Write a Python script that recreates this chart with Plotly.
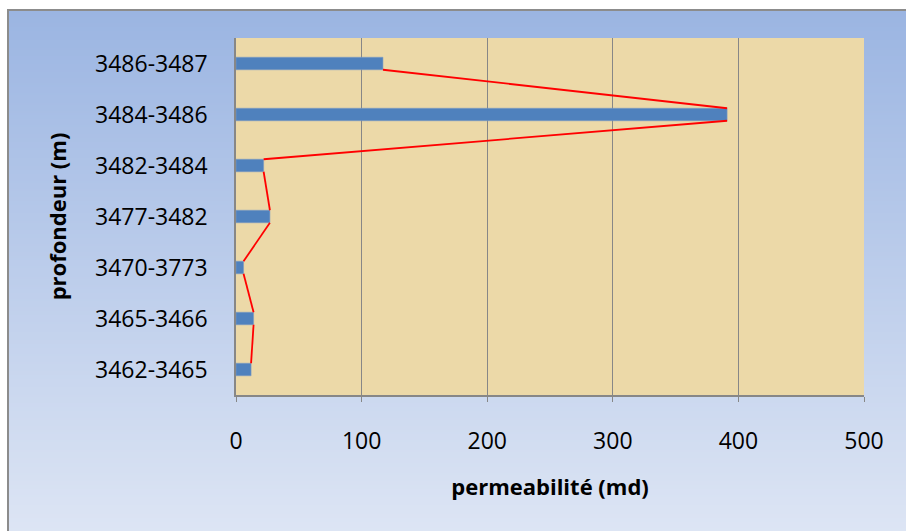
import base64, struct, zlib
import plotly.graph_objects as go

# ---- data ----
categories = ["3462-3465", "3465-3466", "3470-3773", "3477-3482",
              "3482-3484", "3484-3486", "3486-3487"]
permeability = [12, 14, 6, 27, 22, 391, 117]
x_ticks = [0, 100, 200, 300, 400, 500]

# ---- geometry ----
W, H = 906, 531
ML, MR, MT, MB = 236, 42, 38, 136
PW, PH = W - ML - MR, H - MT - MB
BAR_W = 0.245  # bar thickness in category units


def px_to_paper_x(px):
    return (px - ML) / PW


def py_to_paper_y(py):
    return (H - MB - py) / PH


def gradient_png(top, bottom, h=256):
    rows = []
    for i in range(h):
        t = i / (h - 1)
        c = [round(top[k] + (bottom[k] - top[k]) * t) for k in range(3)]
        rows.append(b"\x00" + bytes(c))
    raw = b"".join(rows)

    def chunk(tag, data):
        return (struct.pack(">I", len(data)) + tag + data +
                struct.pack(">I", zlib.crc32(tag + data) & 0xffffffff))

    ihdr = struct.pack(">IIBBBBB", 1, h, 8, 2, 0, 0, 0)
    png = (b"\x89PNG\r\n\x1a\n" + chunk(b"IHDR", ihdr) +
           chunk(b"IDAT", zlib.compress(raw)) + chunk(b"IEND", b""))
    return "data:image/png;base64," + base64.b64encode(png).decode()


FONT = "Open Sans"
GRID = "#878787"
TXT = "#000000"

pos = list(range(len(categories)))
half = BAR_W / 2

# Excel-style "series lines": from the lower corner of each bar end to the
# upper corner of the next bar end below it.
sl_x, sl_y = [], []
for i in range(len(categories) - 1, 0, -1):
    sl_x += [permeability[i], permeability[i - 1], None]
    sl_y += [pos[i] - half, pos[i - 1] + half, None]

fig = go.Figure()

fig.add_trace(go.Bar(
    x=permeability, y=pos, orientation="h", width=BAR_W,
    marker=dict(color="#4F81BD", line=dict(color="#7E9CC4", width=0.6)),
    showlegend=False, hovertext=categories))

fig.add_trace(go.Scatter(
    x=sl_x, y=sl_y, mode="lines", connectgaps=False,
    line=dict(color="#FF0000", width=1.8),
    hoverinfo="skip", showlegend=False))

bx0 = px_to_paper_x(8)
by1 = py_to_paper_y(10)
fig.add_layout_image(dict(
    source=gradient_png((155, 181, 226), (221, 229, 244)),
    xref="paper", yref="paper",
    x=bx0, y=by1, sizex=px_to_paper_x(W + 2) - bx0,
    sizey=by1 - py_to_paper_y(H + 2),
    xanchor="left", yanchor="top", sizing="stretch", layer="below"))

# outer border (top & left visible)
fig.add_shape(type="rect", xref="paper", yref="paper",
              x0=bx0, y0=py_to_paper_y(H + 20), x1=px_to_paper_x(W + 20), y1=by1,
              line=dict(color="#8C8C8C", width=2), layer="below")

# plot area background
fig.add_shape(type="rect", xref="paper", yref="paper",
              x0=0, y0=0, x1=1, y1=1,
              fillcolor="#ECD9A8", line=dict(width=0), layer="below")

fig.update_layout(
    width=W, height=H,
    margin=dict(l=ML, r=MR, t=MT, b=MB),
    paper_bgcolor="white",
    plot_bgcolor="rgba(0,0,0,0)",
    font=dict(family=FONT, size=23, color=TXT),
    xaxis=dict(
        range=[0, 500], tickvals=x_ticks, ticktext=[str(v) for v in x_ticks],
        showgrid=True, gridcolor=GRID, gridwidth=1.3,
        showline=True, linecolor=GRID, linewidth=1.5,
        ticks="outside", ticklen=5, tickcolor=GRID, tickwidth=1.3,
        ticklabelstandoff=20, zeroline=False,
        tickfont=dict(family=FONT, size=23, color=TXT),
        title=dict(text="<b>permeabilité (md)</b>", standoff=24,
                   font=dict(family=FONT, size=22, color=TXT)),
    ),
    yaxis=dict(
        range=[-0.5, len(categories) - 0.5],
        tickvals=pos, ticktext=categories, showgrid=False,
        showline=True, linecolor=GRID, linewidth=1.5,
        ticks="", ticklabelstandoff=22, zeroline=False,
        tickfont=dict(family=FONT, size=23, color=TXT),
        title=dict(text="<b>profondeur (m)</b>", standoff=22,
                   font=dict(family=FONT, size=22, color=TXT)),
    ),
)

fig.write_html("out.html")
